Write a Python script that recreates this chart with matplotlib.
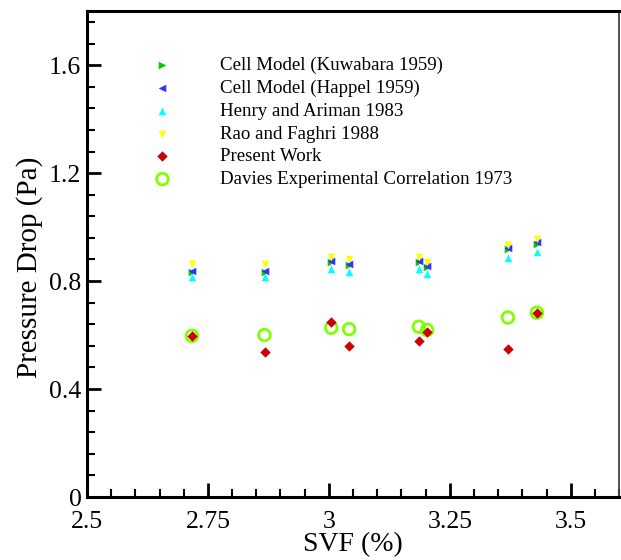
import matplotlib
matplotlib.use("Agg")
import matplotlib.pyplot as plt
from matplotlib.ticker import MultipleLocator, FixedLocator

plt.rcParams['font.family'] = ['Liberation Serif', 'DejaVu Serif']
plt.rcParams['mathtext.fontset'] = 'stix'

svf = [2.717, 2.867, 3.005, 3.042, 3.186, 3.203, 3.370, 3.430]
kuwabara = [0.833, 0.833, 0.869, 0.860, 0.869, 0.853, 0.918, 0.939]
happel = [0.838, 0.838, 0.873, 0.864, 0.873, 0.857, 0.922, 0.943]
henry = [0.815, 0.815, 0.843, 0.835, 0.843, 0.828, 0.884, 0.906]
rao = [0.863, 0.863, 0.890, 0.881, 0.888, 0.872, 0.933, 0.955]
present = [0.597, 0.538, 0.650, 0.559, 0.579, 0.612, 0.548, 0.680]
davies = [0.597, 0.600, 0.627, 0.622, 0.631, 0.619, 0.665, 0.683]

xticks = [2.5, 2.75, 3.0, 3.25, 3.5]
xticklabels = ['2.5', '2.75', '3', '3.25', '3.5']
yticks = [0, 0.4, 0.8, 1.2, 1.6]
yticklabels = ['0', '0.4', '0.8', '1.2', '1.6']

fig = plt.figure(figsize=(6.21, 5.60), dpi=100)
ax = fig.add_axes([0.140, 0.1125, 0.857, 0.8675])

ax.scatter(svf, kuwabara, marker='>', s=30, color='#00CC00', linewidths=0, label='Cell Model (Kuwabara 1959)', zorder=3)
ax.scatter(svf, happel, marker='<', s=30, color='#3333FF', linewidths=0, label='Cell Model (Happel 1959)', zorder=3)
ax.scatter(svf, henry, marker='^', s=30, color='#00FFFF', linewidths=0, label='Henry and Ariman 1983', zorder=3)
ax.scatter(svf, rao, marker='v', s=30, color='#FFFF00', linewidths=0, label='Rao and Faghri 1988', zorder=3)
ax.scatter(svf, present, marker='D', s=28, color='#CC0000', linewidths=0, label='Present Work', zorder=5)
ax.scatter(svf, davies, marker='o', s=70, facecolors='none', edgecolors='#80FF00', linewidths=2.0,
           label='Davies Experimental Correlation 1973', zorder=4)

ax.set_xlim(2.5, 3.6)
ax.set_ylim(0, 1.8)
ax.xaxis.set_major_locator(FixedLocator(xticks))
ax.set_xticklabels(xticklabels)
ax.xaxis.set_minor_locator(MultipleLocator(0.05))
ax.yaxis.set_major_locator(FixedLocator(yticks))
ax.set_yticklabels(yticklabels)
ax.yaxis.set_minor_locator(MultipleLocator(0.08))

ax.tick_params(axis='both', which='major', direction='in', length=10, width=2, labelsize=18.5,
               top=False, right=False)
ax.tick_params(axis='y', which='major', pad=4)
ax.tick_params(axis='x', which='major', pad=10)
ax.tick_params(axis='both', which='minor', direction='in', length=5.5, width=1.5, top=False, right=False)

for side in ['left', 'bottom', 'top']:
    ax.spines[side].set_linewidth(2.2)
    ax.spines[side].set_color('black')
ax.spines['right'].set_linewidth(1.3)
ax.spines['right'].set_color('#444444')

ax.set_xlabel('SVF (%)', fontsize=20)
ax.xaxis.set_label_coords(0.5, -0.073)
ax.xaxis.label.set_va('top')
ax.set_ylabel('Pressure Drop (Pa)', fontsize=21)
ax.yaxis.set_label_coords(-0.083, 0.473)

leg = ax.legend(loc='upper left', bbox_to_anchor=(0.11, 0.921), frameon=False, fontsize=13.6,
                handlelength=1.0, handletextpad=2.56, labelspacing=0.29, scatterpoints=1,
                borderaxespad=0)

fig.savefig('out.png', dpi=100)
